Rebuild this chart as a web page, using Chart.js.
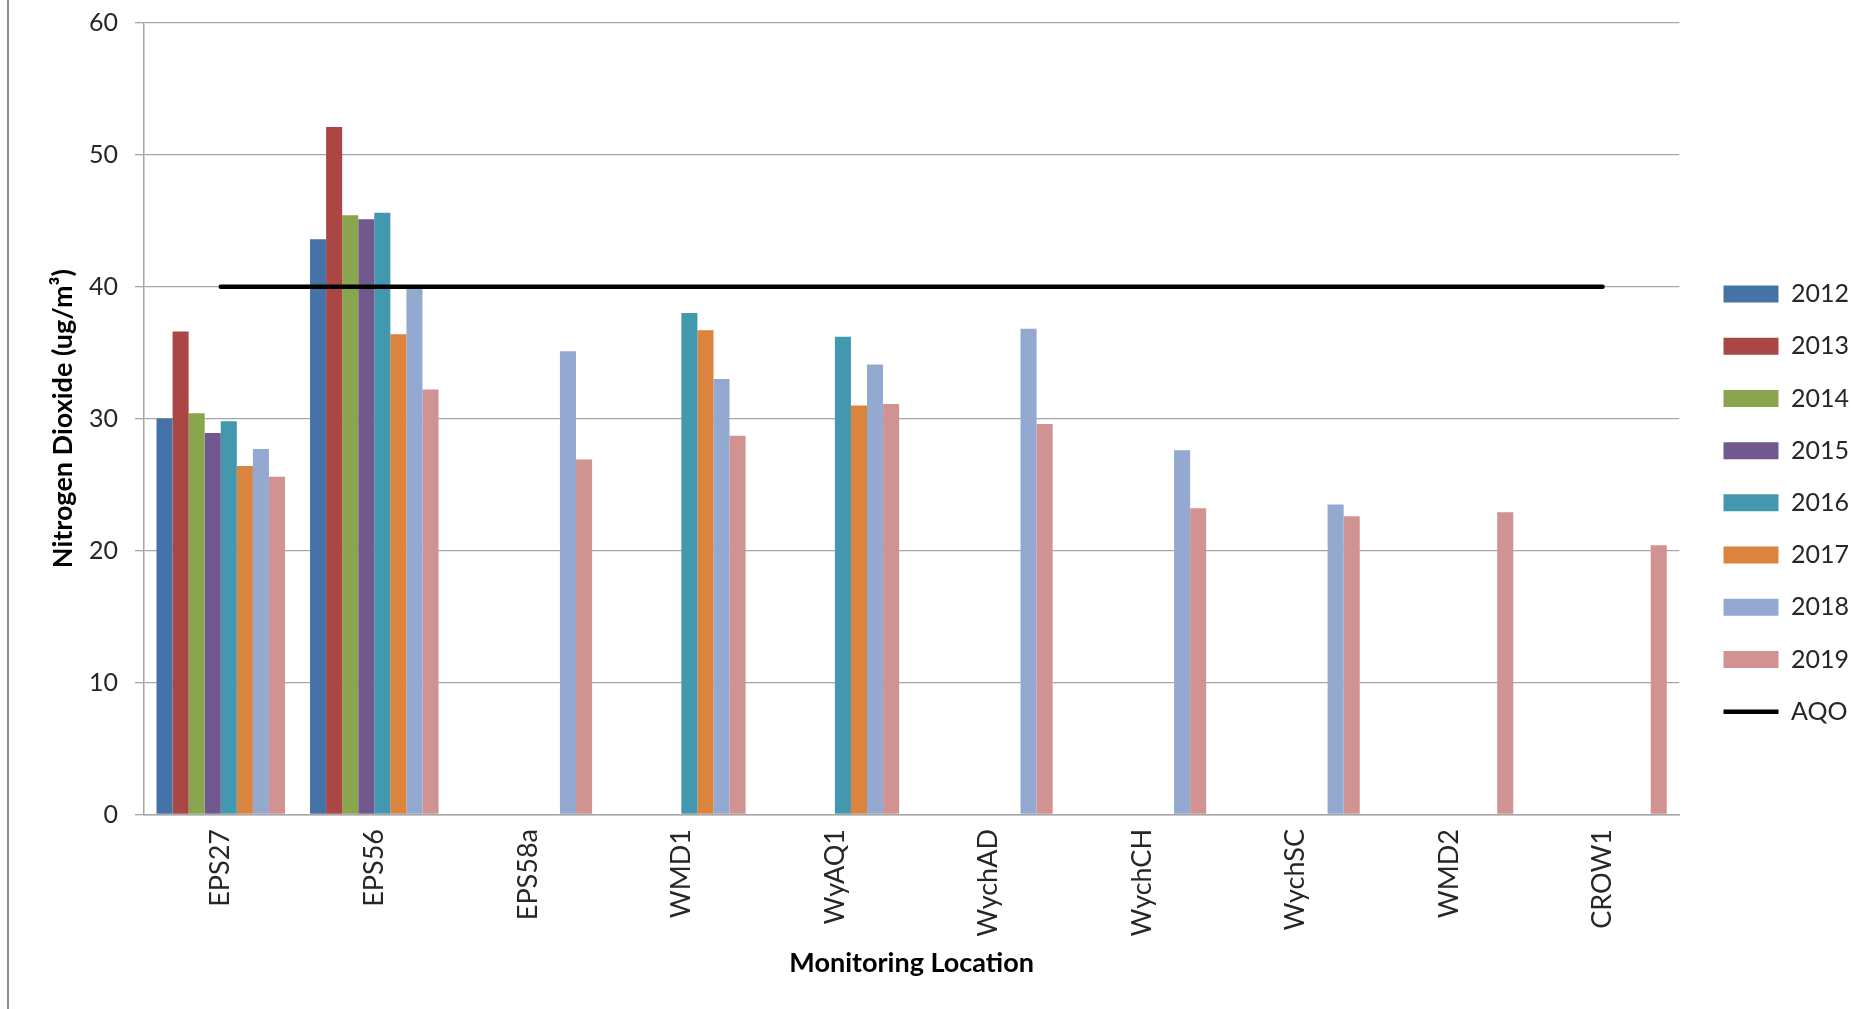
<!DOCTYPE html>
<html>
<head>
<meta charset="utf-8">
<title>Nitrogen Dioxide by Monitoring Location</title>
<script src="https://cdn.jsdelivr.net/npm/chart.js@4.4.1/dist/chart.umd.min.js"></script>
<style>
  html, body { margin: 0; padding: 0; background: #ffffff; }
  #wrap { position: relative; width: 1851px; height: 1009px; overflow: hidden; }
  #frame { position: absolute; left: 7px; top: 0; width: 2px; height: 1009px; background: #8c8c8c; }
  canvas { position: absolute; left: 0; top: 0; }
</style>
</head>
<body>
<div id="wrap">
  <canvas id="chart" width="1851" height="1009"></canvas>
  <div id="frame"></div>
</div>
<script>
// Monitoring locations along the category axis
const locations = ['EPS27', 'EPS56', 'EPS58a', 'WMD1', 'WyAQ1', 'WychAD', 'WychCH', 'WychSC', 'WMD2', 'CROW1'];

// Annual mean NO2 (ug/m3) per location, one array per year
const no2_2012 = [30.0, 43.6, null, null, null, null, null, null, null, null];
const no2_2013 = [36.6, 52.1, null, null, null, null, null, null, null, null];
const no2_2014 = [30.4, 45.4, null, null, null, null, null, null, null, null];
const no2_2015 = [28.9, 45.1, null, null, null, null, null, null, null, null];
const no2_2016 = [29.8, 45.6, null, 38.0, 36.2, null, null, null, null, null];
const no2_2017 = [26.4, 36.4, null, 36.7, 31.0, null, null, null, null, null];
const no2_2018 = [27.7, 39.9, 35.1, 33.0, 34.1, 36.8, 27.6, 23.5, null, null];
const no2_2019 = [25.6, 32.2, 26.9, 28.7, 31.1, 29.6, 23.2, 22.6, 22.9, 20.4];

// Air Quality Objective
const aqo = [40, 40, 40, 40, 40, 40, 40, 40, 40, 40];

const yearLabels = ['2012', '2013', '2014', '2015', '2016', '2017', '2018', '2019'];
const yearSeries = [no2_2012, no2_2013, no2_2014, no2_2015, no2_2016, no2_2017, no2_2018, no2_2019];
const yearColours = ['#4572A7', '#AA4643', '#89A54E', '#71588F', '#4198AF', '#DB843D', '#93A9CF', '#D19392'];

// y-axis ticks
const yMin = 0, yMax = 60, yStep = 10;

const FONT = 'Lato, "Open Sans", "DejaVu Sans", sans-serif';

const datasets = yearLabels.map((yr, i) => ({
  type: 'bar',
  label: yr,
  data: yearSeries[i],
  backgroundColor: yearColours[i],
  borderWidth: 0,
  categoryPercentage: 0.837,
  barPercentage: 1.0,
  order: 2
}));

// objective line, drawn over the bars
datasets.push({
  type: 'line',
  label: 'AQO',
  data: aqo,
  borderColor: '#000000',
  backgroundColor: '#000000',
  borderWidth: 4.5,
  borderCapStyle: 'round',
  pointRadius: 0,
  pointHoverRadius: 0,
  fill: false,
  tension: 0,
  order: 1
});

const baseLabels = Chart.defaults.plugins.legend.labels.generateLabels;

new Chart(document.getElementById('chart'), {
  type: 'bar',
  data: { labels: locations, datasets: datasets },
  options: {
    responsive: false,
    animation: false,
    devicePixelRatio: 1,
    layout: { padding: { top: 22.7, left: 0, right: -8, bottom: 26 } },
    plugins: {
      tooltip: { enabled: false },
      legend: {
        position: 'right',
        align: 'center',
        labels: {
          usePointStyle: true,
          pointStyleWidth: 55,
          boxHeight: 17,
          padding: 27.2,
          color: '#262626',
          font: { family: FONT, size: 25 },
          sort: (a, b) => a.datasetIndex - b.datasetIndex,
          generateLabels(chart) {
            return baseLabels(chart).map(item => {
              const isLine = item.text === 'AQO';
              item.pointStyle = isLine ? 'line' : 'rect';
              if (isLine) { item.lineWidth = 4.5; item.strokeStyle = '#000000'; }
              else { item.lineWidth = 0; }
              return item;
            });
          }
        }
      }
    },
    scales: {
      x: {
        type: 'category',
        grid: { display: false, drawTicks: false },
        border: { display: true, color: '#a6a6a6', width: 1.5 },
        ticks: {
          minRotation: 90, maxRotation: 90, autoSkip: false,
          padding: 14.5,
          color: '#262626',
          font: { family: FONT, size: 27 }
        },
        title: {
          display: true,
          text: 'Monitoring Location',
          color: '#000000',
          font: { family: FONT, size: 27, weight: 'bold' },
          padding: { top: 0, bottom: 4 }
        },
        afterFit(scale) {
          scale.height = 168.5;
          scale.paddingLeft = 0; scale.paddingRight = 0;
        }
      },
      y: {
        position: 'left',
        min: yMin, max: yMax,
        ticks: {
          stepSize: yStep,
          padding: 17,
          color: '#262626',
          font: { family: FONT, size: 25 }
        },
        grid: { color: '#a6a6a6', lineWidth: 1.3, tickLength: 9, tickColor: '#a6a6a6' },
        border: { display: true, color: '#a6a6a6', width: 1.5 },
        title: {
          display: true,
          text: 'Nitrogen Dioxide (ug/m³)',
          color: '#000000',
          font: { family: FONT, size: 27, weight: 'bold' },
          padding: { top: 47, bottom: 0 }
        },
        afterFit(scale) {
          scale.width = 144;
          scale.paddingTop = 0; scale.paddingBottom = 0;
        }
      },
      gap: {
        position: 'right',
        display: true,
        grid: { display: false, drawTicks: false },
        border: { display: false },
        ticks: { display: false },
        afterFit(scale) { scale.width = 17; }
      }
    }
  }
});
</script>
</body>
</html>
